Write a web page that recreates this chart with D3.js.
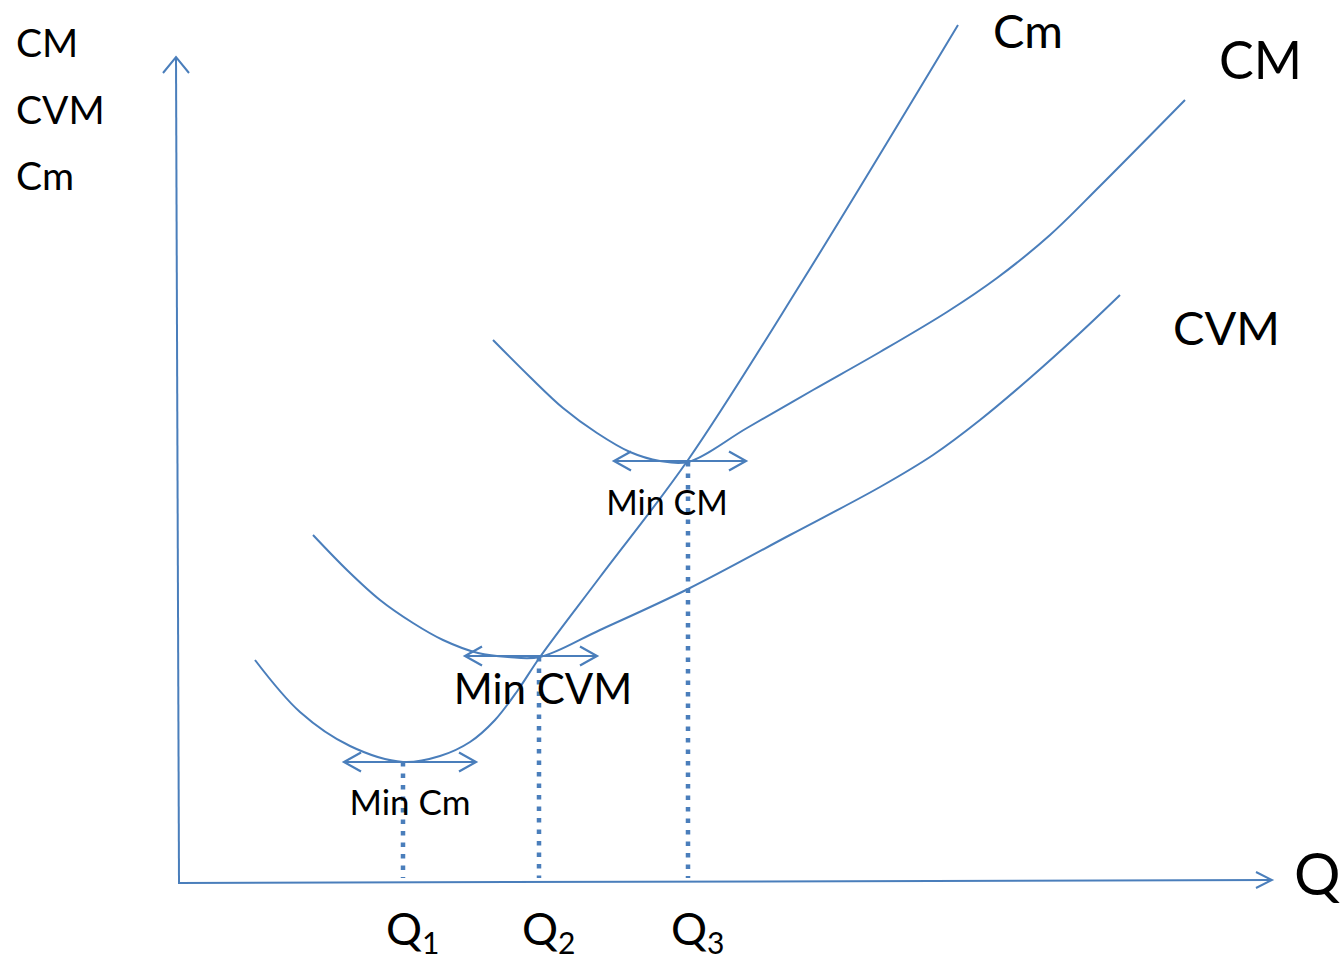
<!DOCTYPE html>
<html><head><meta charset="utf-8">
<script src="https://cdn.jsdelivr.net/npm/d3@7"></script>
<style>html,body{margin:0;padding:0;background:#fff;}svg{display:block;}</style>
</head><body>
<svg id="chart" width="1344" height="961"></svg>
<script>
// Data in chart units (Q horizontal, cost vertical), origin at axes intersection
const cmCurve = [[7.7,22.3],[12.2,17.1],[17.2,13.7],[22.5,12.1],[26.2,12.7],[29.2,14.1],[31.7,16.3],[34.0,19.3],[36.2,22.6],[42.2,30.6],[51.0,42.3],[62.5,60.3],[78.0,85.8]];
const cvmCurve = [[13.5,34.8],[17.0,31.2],[20.2,28.3],[23.5,26.0],[26.5,24.3],[30.0,23.0],[33.0,22.6],[36.2,22.6],[42.2,25.3],[51.0,29.4],[61.2,34.8],[70.2,39.6],[75.5,42.8],[80.2,46.3],[85.2,50.5],[90.2,55.0],[94.2,58.8]];
const cmAvgCurve = [[31.5,54.3],[35.2,50.6],[38.5,47.5],[41.9,45.0],[45.2,43.1],[48.2,42.2],[51.0,42.1],[56.9,45.5],[63.5,49.3],[70.2,53.1],[76.9,57.1],[81.9,60.5],[87.2,64.8],[92.2,69.7],[100.7,78.3]];
const minPoints = [
  {label:"Min Cm",  q:22.5, c:12.1, ac:23.2, ay:12.1, lx:23.2, ly:6.8,  size:35},
  {label:"Min CVM", q:36.1, c:22.6, ac:35.3, ay:22.7, lx:36.5, ly:17.9, size:42},
  {label:"Min CM",  q:51.0, c:42.1, ac:50.2, ay:42.2, lx:48.9, ly:36.8, size:34}
];
const arrowHalf = 6.6;
const qTicks = ["1","2","3"];
const yLabels = ["CM","CVM","Cm"];
const curveLabels = [
  {text:"Cm",  q:81.5, c:83.5, size:47},
  {text:"CM",  q:104.1, c:80.4, size:52},
  {text:"CVM", q:99.5, c:53.8, size:47}
];

const svg = d3.select("#chart");
const x = d3.scaleLinear().domain([0, 110]).range([178, 1278]);
const y = d3.scaleLinear().domain([0, 90]).range([883, -17]);
const lineColor = "#4a7ebb", dotColor = "#4a7ebb";
const font = "Lato, 'Open Sans', sans-serif";

const line = d3.line().x(d=>x(d[0])).y(d=>y(d[1])).curve(d3.curveCatmullRom.alpha(0.5));
const straight = d3.line().x(d=>x(d[0])).y(d=>y(d[1]));

// axes
const axesG = svg.append("g").attr("fill","none").attr("stroke",lineColor).attr("stroke-width",2);
axesG.append("path").attr("d", straight([[0.1,0],[-0.2,82.6]]));
axesG.append("path").attr("d", straight([[-1.5,81.0],[-0.2,82.6],[1.1,81.0]]));
axesG.append("path").attr("d", straight([[0,0],[109.4,0.3]]));
axesG.append("path").attr("d", straight([[107.8,1.1],[109.4,0.3],[107.8,-0.5]]));

// dotted lines
svg.append("g").selectAll("path").data(minPoints).join("path")
  .attr("d", d=>straight([[d.q,d.c],[d.q,0.5]]))
  .attr("stroke",dotColor).attr("stroke-width",4.5).attr("stroke-dasharray","4.5 7").attr("fill","none");

// curves
const curvesG = svg.append("g").attr("fill","none").attr("stroke",lineColor).attr("stroke-width",2);
[cmCurve, cvmCurve, cmAvgCurve].forEach(c => curvesG.append("path").attr("d", line(c)));

// double arrows
const arr = svg.append("g").attr("fill","none").attr("stroke",lineColor).attr("stroke-width",2.2);
minPoints.forEach(d=>{
  const l = d.ac-arrowHalf, r = d.ac+arrowHalf;
  arr.append("path").attr("d", straight([[l,d.ay],[r,d.ay]]));
  arr.append("path").attr("d", straight([[l+1.7,d.ay+0.95],[l,d.ay],[l+1.7,d.ay-0.95]]));
  arr.append("path").attr("d", straight([[r-1.7,d.ay+0.95],[r,d.ay],[r-1.7,d.ay-0.95]]));
});

// min labels
svg.append("g").selectAll("text").data(minPoints).join("text")
  .attr("x", d=>x(d.lx)).attr("y", d=>y(d.ly)).attr("text-anchor","middle")
  .attr("font-family",font).attr("font-size",d=>d.size).attr("fill","#000").text(d=>d.label);

// Q tick labels
const qt = svg.append("g").selectAll("text").data(minPoints).join("text")
  .attr("x", (d,i)=>x(d.q)-17).attr("y", 945)
  .attr("font-family",font).attr("font-size",45).attr("fill","#000");
qt.append("tspan").text("Q");
qt.append("tspan").attr("font-size",30).attr("dy",9).text((d,i)=>qTicks[i]);

// Axis title Q
svg.append("text").attr("x",1294).attr("y",895).attr("font-family",font).attr("font-size",58).text("Q");

// y labels top-left
svg.append("g").selectAll("text").data(yLabels).join("text")
  .attr("x",16).attr("y",(d,i)=>57+i*66.5).attr("font-family",font).attr("font-size",39).text(d=>d);

// curve labels
svg.append("g").selectAll("text").data(curveLabels).join("text")
  .attr("x",d=>x(d.q)).attr("y",d=>y(d.c)).attr("font-family",font).attr("font-size",d=>d.size).text(d=>d.text);
</script>
</body></html>
